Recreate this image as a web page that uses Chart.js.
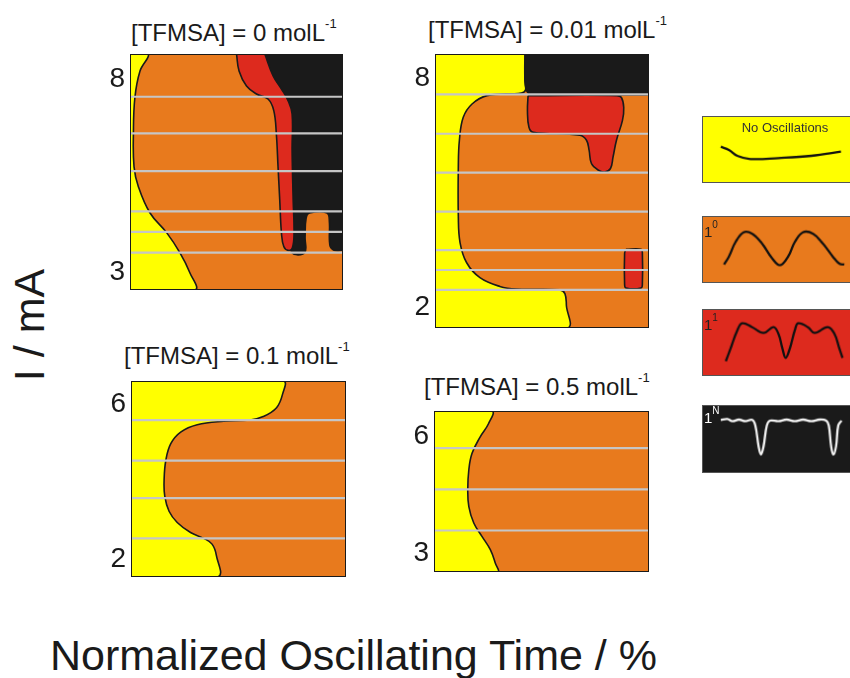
<!DOCTYPE html>
<html>
<head>
<meta charset="utf-8">
<script src="https://cdn.jsdelivr.net/npm/chart.js@4.4.0/dist/chart.umd.min.js"></script>
<style>
  html, body { margin: 0; padding: 0; background: #fff; overflow: hidden; }
  body { width: 850px; height: 678px; position: relative;
         font-family: "Liberation Sans", Arial, sans-serif; color: #1a1a1a; }
  canvas { position: absolute; }
  .title { position: absolute; font-size: 24px; line-height: 24px; white-space: nowrap; }
  .title sup { font-size: 13px; position: relative; top: -4px; }
  .lbl { position: absolute; white-space: nowrap; }
  .box { border: 1px solid #555; box-sizing: content-box; }
</style>
</head>
<body>

<div class="title" style="left:131px; top:16px;">[TFMSA] = 0 molL<sup>-1</sup></div>
<div class="title" style="left:428px; top:13px;">[TFMSA] = 0.01 molL<sup>-1</sup></div>
<div class="title" style="left:124px; top:339px;">[TFMSA] = 0.1 molL<sup>-1</sup></div>
<div class="title" style="left:424px; top:370px;">[TFMSA] = 0.5 molL<sup>-1</sup></div>

<div class="lbl" style="left:29px; top:325px; font-size:43px; line-height:43px; transform:translate(-50%,-50%) rotate(-90deg);">I / mA</div>
<div class="lbl" style="left:50px; top:634px; font-size:43px; line-height:43px;">Normalized Oscillating Time / %</div>

<canvas id="p1"></canvas>
<canvas id="p2"></canvas>
<canvas id="p3"></canvas>
<canvas id="p4"></canvas>

<canvas id="wNone" class="box"></canvas>
<canvas id="w10" class="box"></canvas>
<canvas id="w11" class="box"></canvas>
<canvas id="w1N" class="box"></canvas>

<div class="lbl" style="left:785px; top:120px; font-size:13px; line-height:15px; transform:translateX(-50%); color:#333;">No Oscillations</div>
<div class="lbl" style="left:704px; top:224px; font-size:15px; line-height:15px; color:#222;">1<span style="font-size:10px; position:relative; top:-9px;">0</span></div>
<div class="lbl" style="left:704px; top:317px; font-size:15px; line-height:15px; color:#222;">1<span style="font-size:10px; position:relative; top:-9px;">1</span></div>
<div class="lbl" style="left:704px; top:410px; font-size:15px; line-height:15px; color:#fff;">1<span style="font-size:10px; position:relative; top:-9px;">N</span></div>

<script>
// ====== Données ======
// x = temps d'oscillation normalisé (%), y = I (mA)

// [TFMSA] = 0
const p1Range  = [2.53, 8.66];
const p1Ticks  = [8, 3];
const p1Grays  = [7.55, 6.6, 5.62, 4.57, 4.04, 3.5];
const p1Yellow = [[0,8.66],[8.6,8.66],[4.7,8.22],[2.3,7.53],[1.6,6.59],[1.9,5.73],[3.9,5.22],[9.4,4.53],[17.2,4.02],[23.4,3.5],[28.1,2.98],[30.5,2.53],[0,2.53]];
const p1Black  = [[60,8.66],[100,8.66],[100,3.6],[99,3.56],[95.5,3.57],[93.8,3.7],[93.6,4.3],[92.5,4.53],[84.3,4.53],[82.7,4.4],[82.2,3.9],[82,3.5],[76,3.5],[75.5,4.0],[75,4.87],[74.8,6.16],[74,7.1],[72,7.45],[68,7.75],[64,8.09],[60,8.66]];
const p1Red    = [[50,8.66],[51.2,8.22],[54.7,7.83],[59.4,7.62],[64.8,7.49],[67.5,7.19],[68.7,6.59],[69.5,5.73],[70.3,4.87],[71.1,4.01],[72.2,3.66],[74.2,3.56],[76.2,3.62],[77,4.01],[76.6,4.87],[76.1,6.16],[76.1,7.1],[74.2,7.45],[71.1,7.75],[67.2,8.09],[63.3,8.66]];

// [TFMSA] = 0.01
const p2Range  = [1.46, 8.64];
const p2Ticks  = [8, 2];
const p2Grays  = [7.58, 6.55, 5.53, 4.51, 3.5, 2.98, 2.46];
const p2Yellow = [[0,8.64],[42,8.64],[42,8.0],[42.3,7.7],[40.4,7.62],[24.3,7.55],[17.3,7.33],[13.2,6.98],[11.4,6.38],[10.9,5.69],[10.9,4.39],[11.7,3.7],[14.8,3.17],[21,2.78],[30.3,2.55],[38.1,2.48],[58.3,2.46],[60.7,2.36],[61.4,2.05],[61.7,1.46],[0,1.46]];
const p2Black  = [[42,8.64],[100,8.64],[100,7.6],[98,7.57],[46,7.57],[44,7.59],[42.5,7.72],[42,8.0],[42,8.64]];
const p2Red    = [[43.5,7.55],[46,7.55],[85,7.55],[87.1,7.5],[88.2,7.24],[87.6,6.9],[84.8,6.38],[83.2,5.94],[82,5.64],[79.3,5.55],[76.2,5.6],[73.1,5.77],[72,6.12],[70.8,6.38],[67.7,6.51],[45.9,6.59],[43.9,6.72],[43.2,7.16],[43.5,7.55]];
const p2RedSm  = [[89.2,3.52],[96.3,3.52],[96.9,3.42],[96.9,2.61],[96.3,2.51],[89.2,2.51],[88.6,2.61],[88.6,3.42],[89.2,3.52]];

// [TFMSA] = 0.1
const p3Range  = [1.53, 6.6];
const p3Ticks  = [6, 2];
const p3Grays  = [5.59, 4.54, 3.57, 2.53];
const p3Yellow = [[0,6.6],[70.8,6.6],[70.5,6.26],[67.7,5.91],[61.5,5.68],[55.4,5.59],[43.1,5.56],[30.8,5.47],[23.1,5.28],[18.5,4.98],[16.2,4.55],[15.4,4.04],[15.7,3.62],[17.7,3.23],[21.5,2.94],[27.7,2.68],[33.8,2.53],[37.7,2.38],[39.7,2.09],[40.3,1.53],[0,1.53]];

// [TFMSA] = 0.5
const p4Range  = [2.53, 6.64];
const p4Ticks  = [6, 3];
const p4Grays  = [5.69, 4.64, 3.59];
const p4Yellow = [[0,6.64],[26.9,6.64],[25.4,6.32],[21.5,5.98],[17.7,5.56],[16.2,5.14],[15.7,4.63],[16.2,4.2],[18.5,3.78],[22.3,3.44],[26.2,3.1],[28.5,2.76],[29.5,2.53],[0,2.53]];

// Légende : formes d'onde (unités arbitraires 0-100)
const wNoneX = [11.25,16.4,21.7,30,47.7,68.6,87.3];
const wNoneY = [54.2,49.3,40.3,35.4,36.9,40.3,46.7];
const w10X = [13.3,16.4,20.6,25.8,31.1,37.3,43.6,48.75,53.9,58.1,63.3,69.6,75.8,82.1,86.25,89.4];
const w10Y = [26.9,39.3,61.6,76.6,74.2,59.3,36.9,25.8,39.3,61.6,76.6,74.2,59.3,39.3,28.4,26.9];
const w11X = [14.4,17.5,21.7,24.8,31.1,38.3,44.6,47.7,50.2,52.3,55,58.1,60.2,66.4,70.6,78.9,83.1,86.25,88.3];
const w11Y = [21.3,41.3,68.7,79.6,73.6,64.6,73.6,63.7,41.3,26.4,41.3,68.7,79.6,73.6,64.6,73.6,63.7,41.3,26.4];
const w1NX = [11.25,15.4,18.6,22.7,26.9,31.1,33.1,35.2,36.7,38.3,40.4,42.5,47.7,52.9,58.1,63.3,68.6,73.75,77.9,79.6,81.1,82.5,84.2,85.6,87.7];
const w1NY = [79,80.4,76.9,79.4,76.9,79,70.6,38.7,26.5,38.7,70.6,77.9,76.9,79.4,76.9,79.4,76.9,79.4,77.9,70.6,38.7,26.5,38.7,70.6,77.9];

// ====== Couleurs ======
const YELLOW = "#ffff00";
const ORANGE = "#e87a1d";
const RED    = "#dd2a1e";
const BLACK  = "#1a1a1a";
const GRAY   = "#c6c6c6";
const AXIS_W = 40;

function pts(arr) {
  return arr.map(([x, y]) => ({ x, y }));
}

function region(arr, color, order, border = true) {
  return {
    data: pts(arr),
    fill: "shape",
    backgroundColor: color,
    borderColor: border ? BLACK : "transparent",
    borderWidth: border ? 1.6 : 0,
    tension: 0.4,
    pointRadius: 0,
    order
  };
}

function rect(range) {
  const [lo, hi] = range;
  return [[0, lo], [100, lo], [100, hi], [0, hi], [0, lo]];
}

// ====== Un panneau ======
function makePanel(id, box, range, ticks, grays, regions) {
  const cv = document.getElementById(id);
  cv.width = box.w + AXIS_W + 4;
  cv.height = box.h + 8;
  cv.style.left = (box.x - AXIS_W) + "px";
  cv.style.top = (box.y - 4) + "px";

  const datasets = [];
  // fond orange
  datasets.push(region(rect(range), ORANGE, 20, false));
  regions.forEach(r => datasets.push(region(r.pts, r.color, r.order)));
  // lignes grises des mesures
  grays.forEach(v => datasets.push({
    data: pts([[0, v], [100, v]]),
    borderColor: GRAY, borderWidth: 2.2, pointRadius: 0, tension: 0, fill: false, order: 2
  }));
  // cadre
  datasets.push({
    data: pts(rect(range)),
    borderColor: BLACK, borderWidth: 2, pointRadius: 0, tension: 0, fill: false, order: 1
  });

  new Chart(cv, {
    type: "line",
    data: { datasets },
    options: {
      responsive: false,
      animation: false,
      events: [],
      layout: { padding: { left: 0, right: 4, top: 4, bottom: 4 } },
      plugins: { legend: { display: false }, tooltip: { enabled: false } },
      scales: {
        x: { type: "linear", min: 0, max: 100, display: false },
        y: {
          type: "linear", min: range[0], max: range[1],
          grid: { display: false, drawTicks: false },
          border: { display: false },
          afterBuildTicks: axis => { axis.ticks = ticks.map(v => ({ value: v })); },
          afterFit: s => { s.width = AXIS_W; s.paddingTop = 0; s.paddingBottom = 0; },
          ticks: {
            padding: 5,
            color: "#1a1a1a",
            font: { family: "'Liberation Sans', Arial, sans-serif", size: 28 },
            callback: v => String(v)
          }
        }
      }
    }
  });
}

// ====== Légende (formes d'onde) ======
function makeWave(id, box, xs, ys, bg, lineColor) {
  const cv = document.getElementById(id);
  cv.width = box.w;
  cv.height = box.h;
  cv.style.left = box.x + "px";
  cv.style.top = box.y + "px";
  cv.style.background = bg;

  new Chart(cv, {
    type: "line",
    data: {
      datasets: [{
        data: xs.map((x, i) => ({ x, y: ys[i] })),
        borderColor: lineColor, borderWidth: 2.3, pointRadius: 0, tension: 0.4, fill: false
      }]
    },
    options: {
      responsive: false,
      animation: false,
      events: [],
      layout: { padding: 0 },
      plugins: { legend: { display: false }, tooltip: { enabled: false } },
      scales: {
        x: { type: "linear", min: 0, max: 100, display: false },
        y: { type: "linear", min: 0, max: 100, display: false }
      }
    }
  });
}

// ====== INIT ======
document.addEventListener("DOMContentLoaded", () => {
  makePanel("p1", { x: 130, y: 54, w: 213, h: 236 }, p1Range, p1Ticks, p1Grays, [
    { pts: p1Yellow, color: YELLOW, order: 6 },
    { pts: p1Black,  color: BLACK,  order: 5 },
    { pts: p1Red,    color: RED,    order: 4 }
  ]);
  makePanel("p2", { x: 435, y: 54, w: 214, h: 274 }, p2Range, p2Ticks, p2Grays, [
    { pts: p2Yellow, color: YELLOW, order: 6 },
    { pts: p2Black,  color: BLACK,  order: 5 },
    { pts: p2Red,    color: RED,    order: 4 },
    { pts: p2RedSm,  color: RED,    order: 4 }
  ]);
  makePanel("p3", { x: 131, y: 381, w: 215, h: 196 }, p3Range, p3Ticks, p3Grays, [
    { pts: p3Yellow, color: YELLOW, order: 6 }
  ]);
  makePanel("p4", { x: 434, y: 411, w: 215, h: 161 }, p4Range, p4Ticks, p4Grays, [
    { pts: p4Yellow, color: YELLOW, order: 6 }
  ]);

  makeWave("wNone", { x: 702, y: 116, w: 160, h: 67 }, wNoneX, wNoneY, YELLOW, "#111");
  makeWave("w10",   { x: 702, y: 216, w: 160, h: 67 }, w10X, w10Y, ORANGE, "#111");
  makeWave("w11",   { x: 702, y: 309, w: 160, h: 67 }, w11X, w11Y, RED, "#111");
  makeWave("w1N",   { x: 702, y: 405, w: 160, h: 68 }, w1NX, w1NY, BLACK, "#f4f4f4");
});
</script>
</body>
</html>
